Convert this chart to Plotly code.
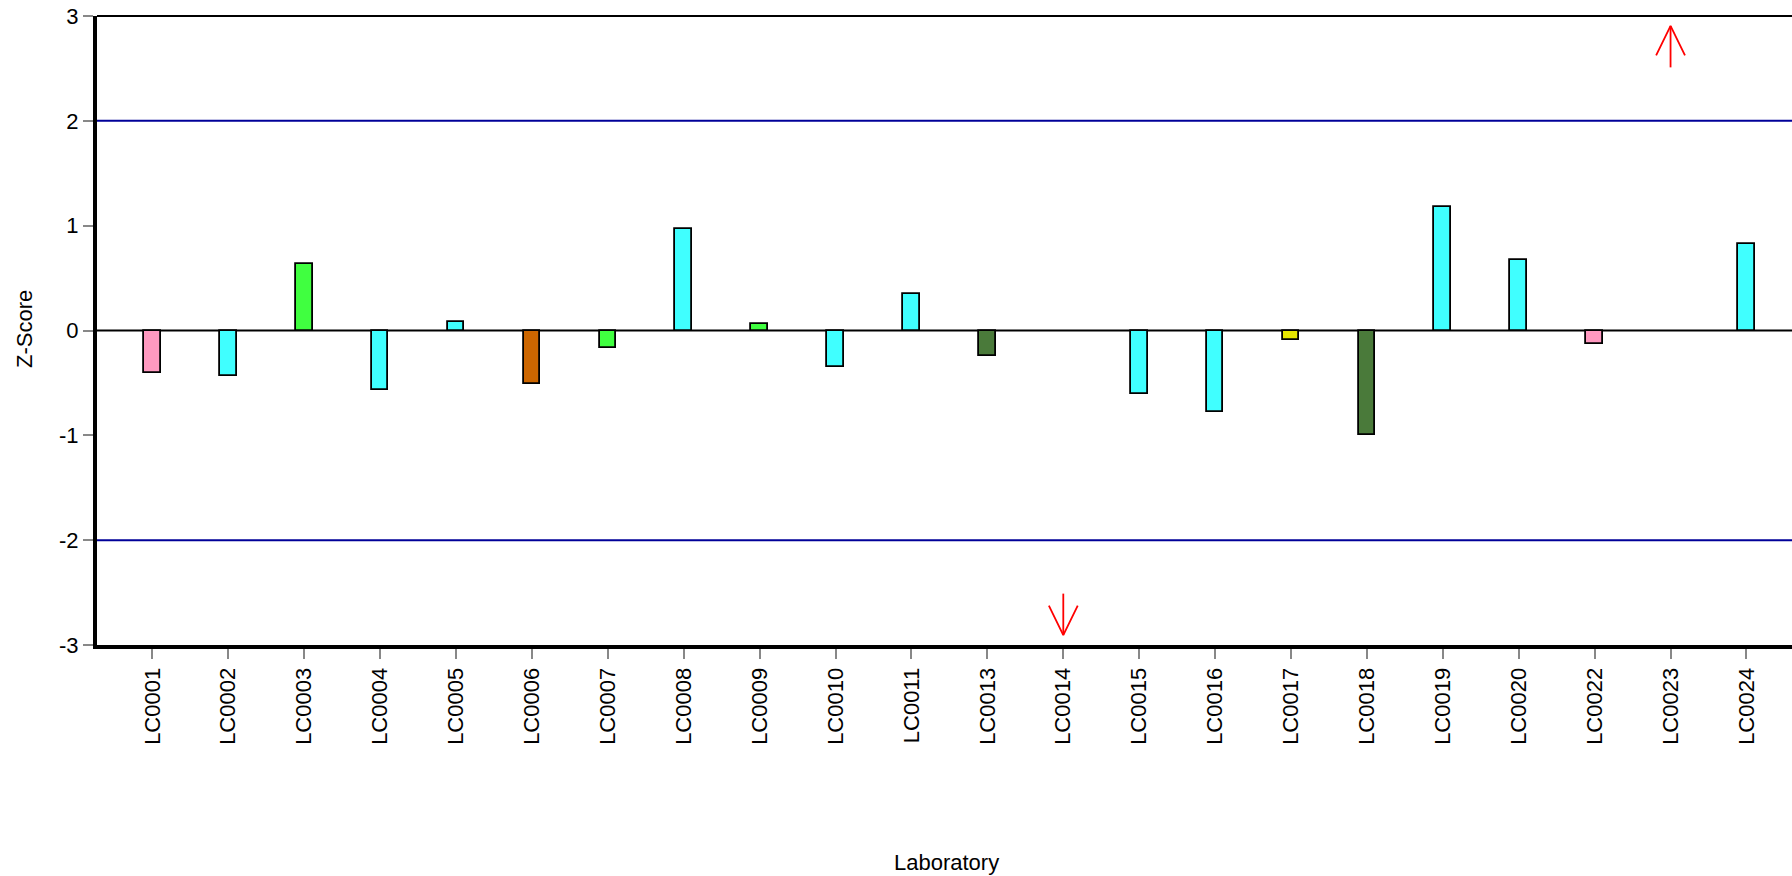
import plotly.graph_objects as go

# ---- data ----
labs = ["LC0001", "LC0002", "LC0003", "LC0004", "LC0005", "LC0006", "LC0007",
        "LC0008", "LC0009", "LC0010", "LC0011", "LC0013", "LC0014", "LC0015",
        "LC0016", "LC0017", "LC0018", "LC0019", "LC0020", "LC0022", "LC0023",
        "LC0024"]
zscores = [-0.41, -0.435, 0.63, -0.565, 0.08, -0.51, -0.17,
           0.965, 0.065, -0.35, 0.345, -0.24, None, -0.61,
           -0.775, -0.095, -1.0, 1.18, 0.67, -0.13, None,
           0.825]
bar_colors = ["#FF99C0", "#40FFFF", "#40FF40", "#40FFFF", "#40FFFF", "#CC6600", "#40FF40",
              "#40FFFF", "#40FF40", "#40FFFF", "#40FFFF", "#4A7A3A", "#40FFFF", "#40FFFF",
              "#40FFFF", "#E6E600", "#4A7A3A", "#40FFFF", "#40FFFF", "#FF99C0", "#40FFFF",
              "#40FFFF"]
off_scale_labs = ["LC0014", "LC0023"]
off_scale_dir = [-1, 1]          # -1 = below range, +1 = above range
y_ticks = [-3, -2, -1, 0, 1, 2, 3]
y_tick_labels = ["-3", "-2", "-1", "0", "1", "2", "3"]
limit_lines = [-2, 2]
y_range = [-3, 3]

FONT = "Liberation Sans, Arial, sans-serif"
W, H = 1792, 876
ML, MR, MT, MB = 97, 0, 16, 231

idx = list(range(len(labs)))
fig = go.Figure()

fig.add_trace(go.Bar(
    x=idx, y=zscores, width=0.22,
    marker=dict(color=bar_colors, line=dict(color="black", width=1.8)),
    showlegend=False, hoverinfo="x+y",
))

# off-scale arrows (open V heads), placed relative to the axis limits
for lab, d in zip(off_scale_labs, off_scale_dir):
    xi = labs.index(lab)
    lim = y_range[1] if d > 0 else y_range[0]
    tip = lim - d * 0.095
    tail = lim - d * 0.49
    wing = lim - d * 0.375
    fig.add_trace(go.Scatter(
        x=[xi, xi, None, xi - 0.19, xi, xi + 0.19],
        y=[tail, tip, None, wing, tip, wing],
        mode="lines", line=dict(color="red", width=1.8),
        showlegend=False, hoverinfo="skip",
    ))

# limit lines
for v in limit_lines:
    fig.add_shape(type="line", xref="paper", x0=0, x1=1, yref="y", y0=v, y1=v,
                  line=dict(color="#000099", width=2), layer="below")
# zero line
fig.add_shape(type="line", xref="paper", x0=0, x1=1, yref="y", y0=0, y1=0,
              line=dict(color="black", width=2), layer="below")
# top border
fig.add_shape(type="line", xref="paper", x0=0, x1=1, yref="paper", y0=1, y1=1,
              line=dict(color="black", width=2))

fig.update_layout(
    width=W, height=H,
    margin=dict(l=ML, r=MR, t=MT, b=MB, autoexpand=False),
    paper_bgcolor="white", plot_bgcolor="white",
    font=dict(family=FONT, size=20, color="black"),
    bargap=0,
)
fig.update_xaxes(
    range=[-0.73, 21.6], tickmode="array", tickvals=idx, ticktext=labs,
    tickangle=-90, showgrid=False, zeroline=False,
    showline=True, linecolor="black", linewidth=4,
    ticks="outside", ticklen=10, tickcolor="#888888", tickwidth=2,
    tickfont=dict(family=FONT, size=22, color="black"),
)
fig.update_yaxes(
    range=y_range, tickmode="array", tickvals=y_ticks, ticktext=y_tick_labels,
    showgrid=False, zeroline=False,
    showline=True, linecolor="black", linewidth=4,
    ticks="outside", ticklen=10, tickcolor="#888888", tickwidth=2,
    tickfont=dict(family=FONT, size=22, color="black"),
)

plot_h = H - MT - MB
fig.add_annotation(text="Laboratory", xref="paper", yref="paper",
                   x=(947 - ML) / (W - ML - MR), y=-(862 - (H - MB)) / plot_h,
                   xanchor="center", yanchor="middle", showarrow=False,
                   font=dict(family=FONT, size=22, color="black"))
fig.add_annotation(text="Z-Score", xref="paper", yref="paper",
                   x=-(ML - 24) / (W - ML - MR), y=1 - (329 - MT) / plot_h,
                   xanchor="center", yanchor="middle", textangle=-90, showarrow=False,
                   font=dict(family=FONT, size=22, color="black"))

fig.write_html(
    "out.html",
    config={"displayModeBar": False},
    post_script="document.body.style.margin='0';document.body.style.overflow='hidden';",
)
